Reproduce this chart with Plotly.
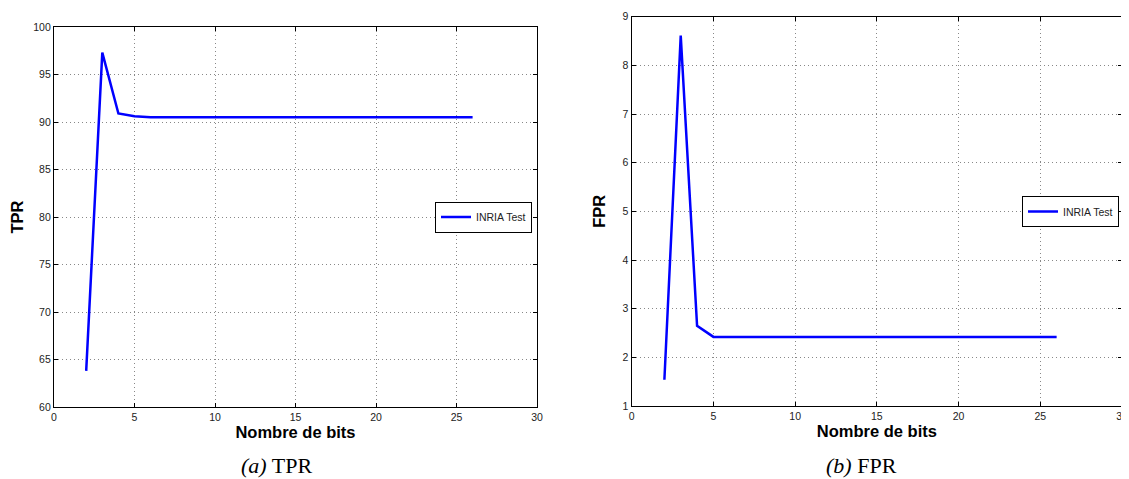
import plotly.graph_objects as go

bits = list(range(2, 27))
tpr = [63.8, 97.3, 90.9, 90.6] + [90.5] * 21
fpr = [1.54, 8.61, 2.65] + [2.42] * 22
series_name = "INRIA Test"
x_ticks = [0, 5, 10, 15, 20, 25, 30]
tpr_ticks = [60, 65, 70, 75, 80, 85, 90, 95, 100]
fpr_ticks = [1, 2, 3, 4, 5, 6, 7, 8, 9]

# page has an 8px body margin; work in page pixels and convert
OFF = 8
W, H = 1129 - OFF, 479 - OFF


def px(x):
    return (x - OFF) / W


def py(y):
    return 1 - (y - OFF) / H


tick_font = dict(family="Liberation Sans, Arial, sans-serif", size=10.5, color="#222")
title_font = dict(family="Liberation Sans, Arial, sans-serif", size=16.5, color="black")

fig = go.Figure()
fig.add_trace(go.Scatter(x=bits, y=tpr, mode="lines", name=series_name,
                         line=dict(color="#0000FF", width=2.5),
                         xaxis="x", yaxis="y", legend="legend"))
fig.add_trace(go.Scatter(x=bits, y=fpr, mode="lines", name=series_name,
                         line=dict(color="#0000FF", width=2.5),
                         xaxis="x2", yaxis="y2", legend="legend2"))

axis_common = dict(showline=True, linecolor="black", linewidth=1.3, mirror="allticks",
                   ticks="inside", ticklen=4, tickcolor="black",
                   showgrid=True, gridcolor="#888", griddash="1px,3px", gridwidth=1,
                   zeroline=False, tickfont=tick_font, automargin=False)

fig.update_layout(
    width=W, height=H, margin=dict(l=0, r=0, t=0, b=0),
    paper_bgcolor="white", plot_bgcolor="white",
    xaxis=dict(domain=[px(54), px(537)], range=[0, 30], tickvals=x_ticks,
               title=dict(text="<b>Nombre de bits</b>", font=title_font, standoff=1),
               anchor="y", **axis_common),
    yaxis=dict(domain=[py(407), py(27)], range=[60, 100], tickvals=tpr_ticks,
               title=dict(text="<b>TPR</b>", font=title_font, standoff=6),
               anchor="x", **axis_common),
    xaxis2=dict(domain=[px(631.7), px(1122)], range=[0, 30], tickvals=x_ticks,
                title=dict(text="<b>Nombre de bits</b>", font=title_font, standoff=1),
                anchor="y2", **axis_common),
    yaxis2=dict(domain=[py(406), py(16.7)], range=[1, 9], tickvals=fpr_ticks,
                title=dict(text="<b>FPR</b>", font=title_font, standoff=12),
                anchor="x2", **axis_common),
    legend=dict(x=px(532), y=py(217), xanchor="right", yanchor="middle",
                bgcolor="white", bordercolor="black", borderwidth=1,
                font=dict(family="Liberation Sans, Arial, sans-serif", size=10.5, color="#222"),
                itemwidth=30, tracegroupgap=0),
    legend2=dict(x=px(1119), y=py(211.5), xanchor="right", yanchor="middle",
                 bgcolor="white", bordercolor="black", borderwidth=1,
                 font=dict(family="Liberation Sans, Arial, sans-serif", size=10.5, color="#222"),
                 itemwidth=30, tracegroupgap=0),
    showlegend=True,
)

cap_font = dict(family="Liberation Serif, Times New Roman, serif", size=22, color="black")
fig.add_annotation(text="<i>(a)</i> TPR", x=px(276), y=py(465), xref="paper", yref="paper",
                   showarrow=False, font=cap_font, xanchor="center", yanchor="middle")
fig.add_annotation(text="<i>(b)</i> FPR", x=px(861), y=py(465), xref="paper", yref="paper",
                   showarrow=False, font=cap_font, xanchor="center", yanchor="middle")

fig.write_html("out.html")
